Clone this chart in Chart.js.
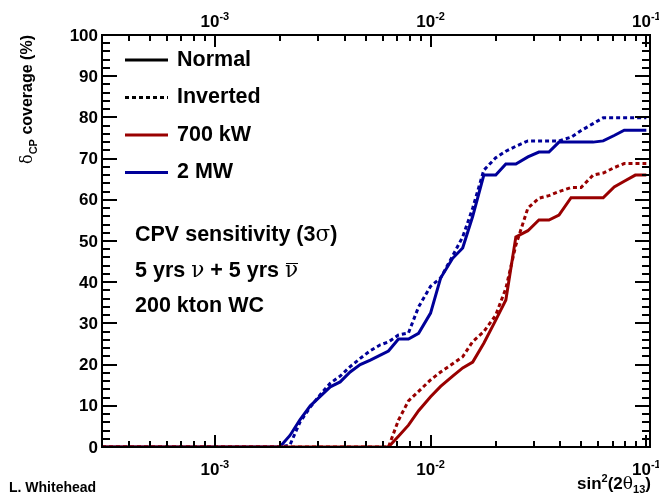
<!DOCTYPE html>
<html>
<head>
<meta charset="utf-8">
<script src="https://cdn.jsdelivr.net/npm/chart.js@4/dist/chart.umd.min.js"></script>
<style>
  body { margin: 0; background: #fff; }
  .txt { position: absolute; white-space: nowrap; line-height: 1; color: #000;
         font-family: "Liberation Sans", Arial, sans-serif; font-weight: bold; }
  .sym { font-weight: normal; font-family: "DejaVu Serif", "Liberation Serif", serif; }
  .barred { position: relative; }
  .barred i { position: absolute; left: 1px; right: 0; top: 6px; border-top: 1.5px solid #000; }
  .tick { position: absolute; background: #000; }
</style>
</head>
<body>
<canvas id="chart" width="659" height="497"></canvas>

<div class="txt" style="left:177px; top:48.5px; font-size:21.5px;">Normal</div>
<div class="txt" style="left:177px; top:86px; font-size:21.5px;">Inverted</div>
<div class="txt" style="left:177px; top:123.5px; font-size:21.5px;">700 kW</div>
<div class="txt" style="left:177px; top:161px; font-size:21.5px;">2 MW</div>

<div class="txt" style="left:135px; top:223px; font-size:21.5px;">CPV sensitivity (3<span class="sym">σ</span>)</div>
<div class="txt" style="left:135px; top:259px; font-size:21.5px;">5 yrs <span class="sym">ν</span> + 5 yrs <span class="sym barred">ν<i></i></span></div>
<div class="txt" style="left:135px; top:295px; font-size:21.5px;">200 kton WC</div>

<div class="txt" style="left:29px; top:35px; font-size:16px; transform-origin:0 0; transform:rotate(-90deg) translate(-100%,-50%);"><span class="sym">δ</span><sub style="font-size:11px;">CP</sub> coverage (%)</div>
<div class="txt" style="right:8px; top:473px; font-size:17px;">sin<sup style="font-size:11px;">2</sup>(2<span class="sym">θ</span><sub style="font-size:11px;">13</sub>)</div>
<div class="txt" style="left:9px; top:480px; font-size:14px;">L. Whitehead</div>

<script>
// sin^2(2 theta13) sample points
const sin2 = [0.0003, 0.002, 0.00223, 0.00248, 0.00277, 0.00308, 0.00343, 0.00381, 0.00424, 0.00472,
              0.00526, 0.00585, 0.00638, 0.0071, 0.0079, 0.0088, 0.01, 0.01113, 0.01266, 0.01409,
              0.01568, 0.01765, 0.02005, 0.02233, 0.02485, 0.02826, 0.03178, 0.03537, 0.03937, 0.04479,
              0.04985, 0.05667, 0.0631, 0.07096, 0.079, 0.0889, 0.1];

// delta_CP coverage (%)
const mw2Normal   = [0, 0, 2.8, 6.6, 10, 12.3, 14.6, 15.8, 18.2, 20, 21.1, 22.3, 23.3, 26.2, 26.2, 27.6,
                     32.5, 41, 45.8, 48.3, 56, 66, 66, 68.7, 68.7, 70.4, 71.6, 71.6, 74, 74, 74, 74,
                     74.3, 75.6, 76.9, 76.9, 76.9];
const mw2Inverted = [0, 0, 0.5, 6.0, 9.7, 12.7, 15.5, 17.2, 19.5, 21.5, 23.4, 24.8, 25.5, 27.2, 27.7, 34,
                     39, 41, 46.4, 51, 58, 67.2, 70.2, 71.8, 73, 74.3, 74.3, 74.3, 74.3, 75.2, 76.8, 78.5,
                     79.9, 79.9, 79.9, 79.9, 79.9];
const kw700Normal   = [0, 0, 0, 0, 0, 0, 0, 0, 0, 0, 0, 0, 0, 2.6, 5.3, 8.8,
                       12.2, 14.7, 17.2, 19.2, 20.6, 25.2, 30.8, 35.7, 51, 52.5, 55.1, 55.1, 56.3, 60.5, 60.5, 60.5,
                       60.5, 63.1, 64.5, 66, 66];
const kw700Inverted = [0, 0, 0, 0, 0, 0, 0, 0, 0, 0, 0, 0, 0, 6.5, 11.2, 13.5,
                       16.3, 18.2, 20.2, 21.9, 25.6, 28, 32, 38.5, 49, 58, 60.4, 61, 62, 63, 63, 66,
                       66.5, 67.8, 68.8, 68.8, 68.8];

// axis ticks
const xDecades = [1e-3, 1e-2, 1e-1];
const xDecadeExp = ['-3', '-2', '-1'];
const xMajor = [1e-3, 1e-2, 1e-1];
const xMinor = [4e-4, 5e-4, 6e-4, 7e-4, 8e-4, 9e-4,
                2e-3, 3e-3, 4e-3, 5e-3, 6e-3, 7e-3, 8e-3, 9e-3,
                2e-2, 3e-2, 4e-2, 5e-2, 6e-2, 7e-2, 8e-2, 9e-2];
const yTicks = [0, 10, 20, 30, 40, 50, 60, 70, 80, 90, 100];
const yMinor = [2, 4, 6, 8, 12, 14, 16, 18, 22, 24, 26, 28, 32, 34, 36, 38, 42, 44, 46, 48,
                52, 54, 56, 58, 62, 64, 66, 68, 72, 74, 76, 78, 82, 84, 86, 88, 92, 94, 96, 98];

const RED = '#990000';
const BLUE = '#000099';
const FONT = '"Liberation Sans", Arial, sans-serif';

function toPoints(values) {
    return sin2.map((x, i) => ({ x: x, y: values[i] }));
}

// list of inward tick rectangles [left, top, w, h] from the chart scales
function tickRects(chart) {
    const a = chart.chartArea;
    const xs = chart.scales.x, ys = chart.scales.y;
    const out = [];
    const xt = (v, len) => {
        const px = Math.round(xs.getPixelForValue(v));
        out.push([px - 1, a.bottom - len, 2, len]);
        out.push([px - 1, a.top, 2, len]);
    };
    const yt = (v, len) => {
        const py = Math.round(ys.getPixelForValue(v));
        out.push([a.left, py - 1, len, 2]);
        out.push([a.right - len, py - 1, len, 2]);
    };
    xMajor.forEach(v => xt(v, 12));
    xMinor.forEach(v => xt(v, 6));
    yTicks.forEach(v => yt(v, 15));
    yMinor.forEach(v => yt(v, 8));
    return out;
}

// frame, tick labels, ticks and legend samples
const rootLabels = {
    id: 'rootLabels',
    afterDraw(chart) {
        const c = chart.ctx;
        const a = chart.chartArea;
        const xs = chart.scales.x, ys = chart.scales.y;
        c.save();

        c.lineWidth = 2;
        c.strokeStyle = '#000';
        c.strokeRect(a.left, a.top, a.right - a.left, a.bottom - a.top);

        const legend = [
            { y: 60, color: '#000', dash: [] },
            { y: 97.5, color: '#000', dash: [4, 3] },
            { y: 135, color: RED, dash: [] },
            { y: 172.5, color: BLUE, dash: [] }
        ];
        c.lineWidth = 3;
        legend.forEach(l => {
            c.beginPath();
            c.strokeStyle = l.color;
            c.setLineDash(l.dash);
            c.moveTo(125, l.y);
            c.lineTo(168, l.y);
            c.stroke();
        });
        c.setLineDash([]);

        c.fillStyle = '#000';
        c.font = 'bold 17px ' + FONT;
        c.textAlign = 'right';
        c.textBaseline = 'middle';
        yTicks.forEach(v => c.fillText(String(v), a.left - 4, ys.getPixelForValue(v) + 1));

        c.textAlign = 'left';
        c.textBaseline = 'alphabetic';
        xDecades.forEach((v, i) => {
            const px = xs.getPixelForValue(v);
            c.font = 'bold 17px ' + FONT;
            const w1 = c.measureText('10').width;
            c.font = 'bold 11px ' + FONT;
            const w2 = c.measureText(xDecadeExp[i]).width;
            const x0 = px - (w1 + w2) / 2;
            [475, 27].forEach(base => {
                c.font = 'bold 17px ' + FONT;
                c.fillText('10', x0, base);
                c.font = 'bold 11px ' + FONT;
                c.fillText(xDecadeExp[i], x0 + w1, base - 7);
            });
        });

        try {
            tickRects(chart).forEach(r => c.fillRect(r[0], r[1], r[2], r[3]));
        } catch (e) { /* ticks also placed as html below */ }
        c.restore();
    }
};

let chart = null;
try {
    chart = new Chart(document.getElementById('chart').getContext('2d'), {
        type: 'line',
        data: {
            datasets: [
                { label: '700 kW Normal', data: toPoints(kw700Normal), borderColor: RED, borderWidth: 3 },
                { label: '700 kW Inverted', data: toPoints(kw700Inverted), borderColor: RED, borderWidth: 3, borderDash: [4, 3] },
                { label: '2 MW Normal', data: toPoints(mw2Normal), borderColor: BLUE, borderWidth: 3 },
                { label: '2 MW Inverted', data: toPoints(mw2Inverted), borderColor: BLUE, borderWidth: 3, borderDash: [4, 3] }
            ]
        },
        options: {
            responsive: false,
            animation: false,
            devicePixelRatio: 1,
            layout: { padding: { left: 102, right: 9, top: 35, bottom: 50 } },
            elements: {
                point: { radius: 0 },
                line: { tension: 0, fill: false, borderCapStyle: 'butt' }
            },
            scales: {
                x: { type: 'logarithmic', min: 0.0003, max: 0.104, display: false },
                y: { type: 'linear', min: 0, max: 100, display: false }
            },
            plugins: {
                legend: { display: false },
                tooltip: { enabled: false }
            }
        },
        plugins: [rootLabels]
    });
} catch (e) { /* keep going so the ticks still get placed */ }

// same ticks as html boxes on top of the canvas
function placeTicks() {
    const ch = chart || Chart.getChart('chart');
    if (!ch) return;
    tickRects(ch).forEach(r => {
        const d = document.createElement('div');
        d.className = 'tick';
        d.style.left = r[0] + 'px';
        d.style.top = r[1] + 'px';
        d.style.width = r[2] + 'px';
        d.style.height = r[3] + 'px';
        document.body.appendChild(d);
    });
}
placeTicks();
</script>
</body>
</html>
